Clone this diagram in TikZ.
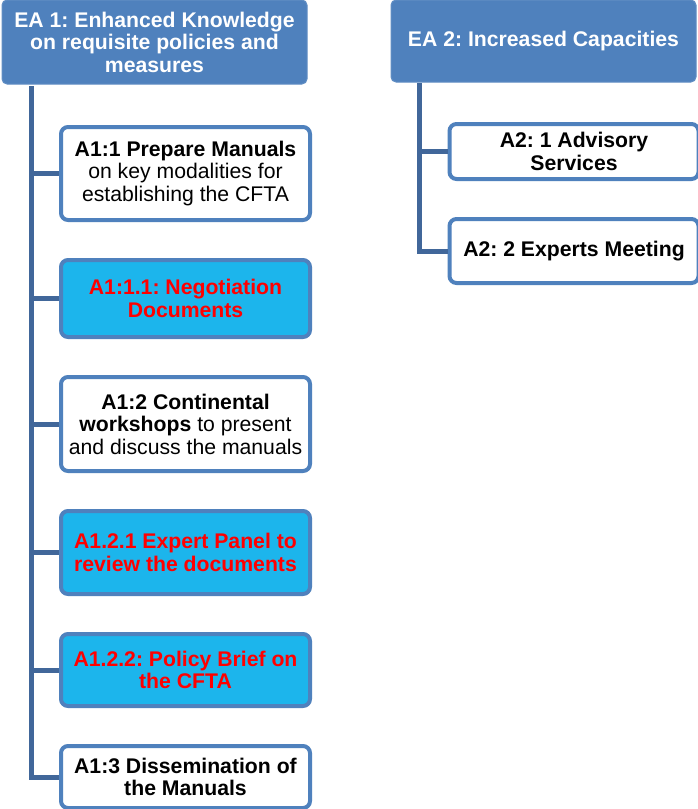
\documentclass[tikz,border=0pt]{standalone}
\usepackage{fontspec}
\setmainfont{Liberation Sans}
\frenchspacing
\definecolor{bc}{HTML}{4F81BD}
\definecolor{trunk}{HTML}{41679A}
\definecolor{cyanf}{HTML}{1CB5EC}
\definecolor{redt}{HTML}{FF0000}
\tikzset{
  x=1pt,y=1pt,
  txt/.style={font=\fontsize{21.2}{22.5}\selectfont, align=center, inner sep=0pt},
  ebox/.style={txt, fill=bc, draw=bc!90!white, line width=1pt, rounded corners=5pt, text=white, font=\fontsize{21.2}{22.5}\selectfont\bfseries},
  abox/.style={txt, fill=white, draw=bc, line width=4pt, rounded corners=7pt, minimum width=249pt},
  hbox/.style={abox, fill=cyanf, text=redt, font=\fontsize{21.2}{22.5}\selectfont\bfseries},
  conn/.style={draw=trunk, line width=5pt},
}
\begin{document}
\begin{tikzpicture}
\clip (0,0) rectangle (698,-809);
\useasboundingbox (0,0) rectangle (698,-809);
\fill[white] (0,0) rectangle (698,-809);
% headers
\node[ebox, minimum width=305pt, minimum height=84pt] (ea1) at (154.5,-42) {EA 1: Enhanced Knowledge\\on requisite policies and\\measures};
\node[ebox, minimum width=305pt, minimum height=82pt] (ea2) at (543.5,-41) {EA 2: Increased Capacities};
% trunks
\coordinate (t1) at (31,-86);
\coordinate (t2) at (419,-83);
% EA1 children
\node[abox, minimum height=93pt] (a11) at (185.5,-173.5) {\textbf{A1:1 Prepare Manuals}\\on key modalities for\\establishing the CFTA};
\node[hbox, minimum height=77pt] (a111) at (185.5,-298.5) {A1:1.1: Negotiation\\Documents};
\node[abox, minimum height=94pt] (a12) at (185.5,-424) {\textbf{A1:2 Continental}\\\textbf{workshops} to present\\and discuss the manuals};
\node[hbox, minimum height=83pt] (a121) at (185.5,-552.5) {A1.2.1 Expert Panel to\\review the documents};
\node[hbox, minimum height=72pt] (a122) at (185.5,-670) {A1.2.2: Policy Brief on\\the CFTA};
\node[abox, minimum height=62pt] (a13) at (185.5,-777) {\textbf{A1:3 Dissemination of}\\\textbf{the Manuals}};
% EA2 children
\node[abox, minimum height=55pt] (a21) at (574,-151.5) {\textbf{A2: 1 Advisory}\\\textbf{Services}};
\node[abox, minimum height=64pt] (a22) at (574,-251) {\textbf{A2: 2 Experts Meeting}};
% connectors
\draw[conn] (t1) |- (a13.west);
\draw[conn] (a11.west -| t1) -- (a11.west);
\draw[conn] (a111.west -| t1) -- (a111.west);
\draw[conn] (a12.west -| t1) -- (a12.west);
\draw[conn] (a121.west -| t1) -- (a121.west);
\draw[conn] (a122.west -| t1) -- (a122.west);
\draw[conn] (t2) |- (a22.west);
\draw[conn] (a21.west -| t2) -- (a21.west);
\end{tikzpicture}
\end{document}
